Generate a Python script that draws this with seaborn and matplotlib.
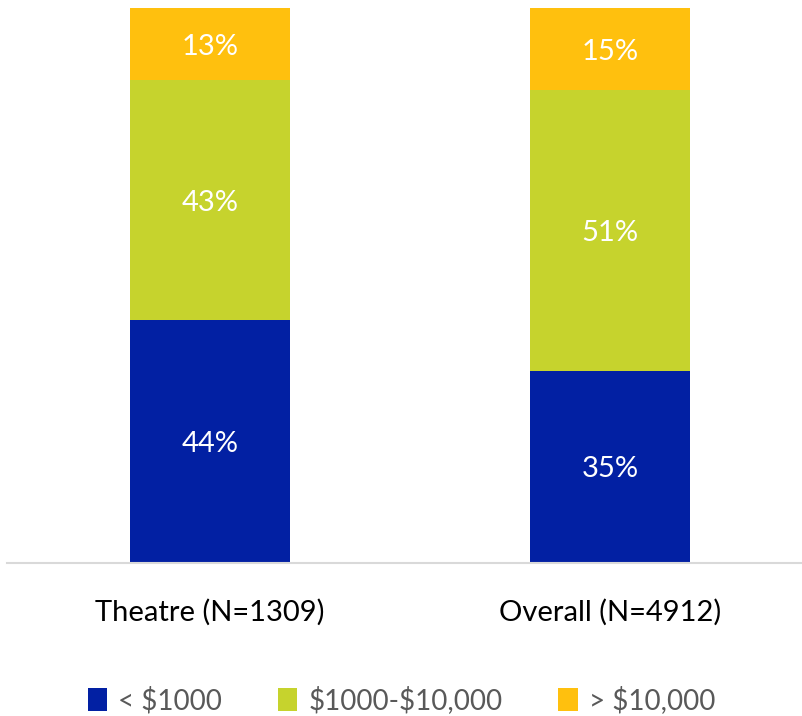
import numpy as np
import pandas as pd
import seaborn as sns
import matplotlib.pyplot as plt
from matplotlib.patches import Patch

# data (share of respondents, %)
categories = ["Theatre (N=1309)", "Overall (N=4912)"]
series = ["< \\$1000", "\\$1000-\\$10,000", "> \\$10,000"]
low = [43.8, 34.6]
mid = [43.2, 50.6]
high = [13.0, 14.8]
colors = ["#0220A3", "#C6D32D", "#FFC00E"]

sns.set_theme(style="white")
plt.rcParams["font.family"] = ["Lato", "DejaVu Sans"]

fig = plt.figure(figsize=(8.03, 7.16), dpi=100)
ax = fig.add_axes([7 / 803, 0.2137, 796 / 803, 0.7751])

df = pd.DataFrame({"cat": categories, "low": low, "mid": mid, "high": high})
df["c1"] = df["low"]
df["c2"] = df["low"] + df["mid"]
df["c3"] = df["c2"] + df["high"]

# stacked bars: draw cumulative totals from the top down
for col, color in zip(["c3", "c2", "c1"], colors[::-1]):
    sns.barplot(data=df, x="cat", y=col, color=color, saturation=1,
                width=0.4, ax=ax, edgecolor="none")

# segment labels
for i in range(len(categories)):
    bottom = 0
    for vals in (low, mid, high):
        v = vals[i]
        ax.text(i, bottom + v / 2, f"{v:.0f}%", ha="center",
                va="center_baseline", color="white", fontsize=21,
                fontweight="normal", zorder=10)
        bottom += v

ax.set_xlim(-0.5075, 1.4825)
ax.set_ylim(0, 100)
ax.set_xlabel("")
ax.set_ylabel("")
ax.set_yticks([])
for s in ["top", "left", "right"]:
    ax.spines[s].set_visible(False)
ax.spines["bottom"].set_color("#D9D9D9")
ax.spines["bottom"].set_linewidth(1.5)
ax.tick_params(axis="x", length=0, pad=26, labelsize=21, labelcolor="black")

handles = [Patch(facecolor=c, edgecolor="none") for c in colors]
fig.legend(handles, series, loc="center", bbox_to_anchor=(0.5, 0.022),
           ncol=3, frameon=False, fontsize=20, labelcolor="#595959",
           handlelength=0.7, handleheight=0.9, handletextpad=0.4,
           columnspacing=2.0)

fig.savefig("out.png", dpi=100)
